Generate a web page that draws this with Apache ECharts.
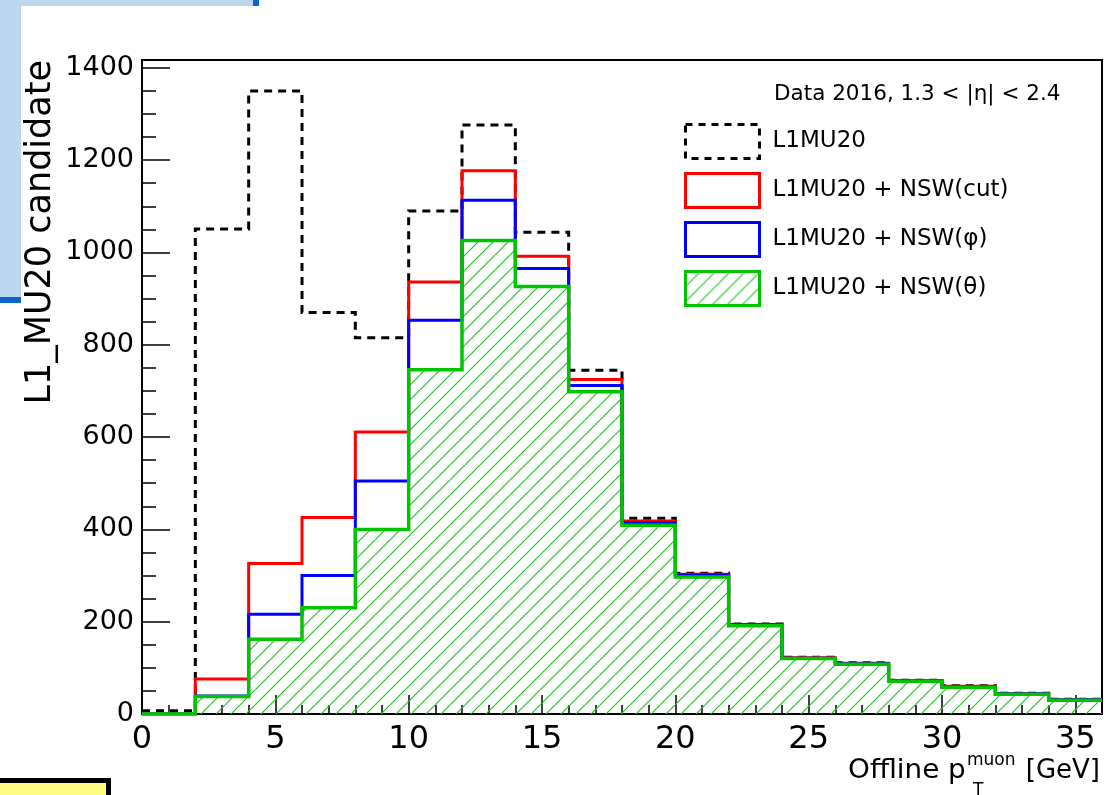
<!DOCTYPE html>
<html>
<head>
<meta charset="utf-8">
<script src="https://cdn.jsdelivr.net/npm/echarts@6/dist/echarts.min.js"></script>
<style>
  html, body { margin: 0; padding: 0; background: #ffffff; }
  #chart { width: 1113px; height: 795px; }
</style>
</head>
<body>
<div id="chart"></div>
<script>
// Offline muon pT bins: low edges in GeV, each bin 2 GeV wide
const binLowEdges = [0, 2, 4, 6, 8, 10, 12, 14, 16, 18, 20, 22, 24, 26, 28, 30, 32, 34];
const binWidth = 2;

// L1MU20 candidate counts per bin
const l1mu20   = [7, 1051, 1350, 870, 815, 1090, 1276, 1044, 745, 424, 305, 195, 123, 111, 73, 61, 45, 32];
const nswCut   = [0,   76,  326, 426, 611,  936, 1177,  992, 725, 418, 303, 194, 122, 110, 72, 60, 44, 31];
const nswPhi   = [0,   39,  216, 300, 505,  853, 1113,  965, 712, 414, 301, 193, 121, 109, 72, 59, 44, 31];
const nswTheta = [0,   38,  162, 230, 400,  746, 1026,  926, 698, 409, 297, 191, 120, 108, 71, 58, 43, 30];

const seriesNames = ['L1MU20', 'L1MU20 + NSW(cut)', 'L1MU20 + NSW(\u03c6)', 'L1MU20 + NSW(\u03b8)'];
const headerText = 'Data 2016, 1.3 < |\u03b7| < 2.4';

const FONT = '"DejaVu Sans", "Liberation Sans", sans-serif';
const GREEN = '#00c400';

// Histogram outline: one point per bin low edge plus the closing upper edge
function histPoints(values) {
  const pts = binLowEdges.map((x, i) => [x, values[i]]);
  pts.push([binLowEdges[binLowEdges.length - 1] + binWidth, values[values.length - 1]]);
  return pts;
}

// Diagonal "/" hatch tile for the filled histogram
function hatchTile(color, size, width) {
  const c = document.createElement('canvas');
  c.width = size; c.height = size;
  const g = c.getContext('2d');
  g.strokeStyle = color;
  g.lineWidth = width;
  g.beginPath();
  for (let k = -1; k <= 1; k++) {
    g.moveTo(k * size, size);
    g.lineTo(k * size + size, 0);
  }
  g.stroke();
  return c;
}
const hatch = { image: hatchTile('#1ec81e', 15, 1.2), repeat: 'repeat' };

const chart = echarts.init(document.getElementById('chart'), null, { renderer: 'canvas' });

function stepSeries(name, values, color, width, dash, extra) {
  return Object.assign({
    name: name,
    type: 'line',
    step: 'end',
    data: histPoints(values),
    showSymbol: false,
    symbol: 'none',
    lineStyle: { color: color, width: width, type: dash || 'solid', join: 'miter' },
    itemStyle: { color: color },
    emphasis: { disabled: true },
    silent: true
  }, extra || {});
}

const plainNumber = v => String(v);

chart.setOption({
  animation: false,
  backgroundColor: '#ffffff',
  grid: {
    left: 142, right: 11, top: 60, bottom: 81,
    show: true, borderColor: '#000', borderWidth: 2, backgroundColor: 'transparent'
  },
  xAxis: {
    type: 'value',
    min: 0, max: 36, interval: 5,
    axisLine: { lineStyle: { color: '#000', width: 2 } },
    axisTick: { show: true, inside: true, length: 19, lineStyle: { color: '#000', width: 1.5 } },
    minorTick: { show: true, splitNumber: 5, length: 9, lineStyle: { color: '#000', width: 1.5 } },
    splitLine: { show: false },
    axisLabel: { fontFamily: FONT, fontSize: 32, color: '#000', margin: 10, showMaxLabel: false, formatter: plainNumber }
  },
  yAxis: {
    type: 'value',
    min: 0, max: 1417, interval: 200,
    axisLine: { show: true, lineStyle: { color: '#000', width: 2 } },
    axisTick: { show: true, inside: true, length: 28, lineStyle: { color: '#000', width: 1.5 } },
    minorTick: { show: true, splitNumber: 4, length: 14, lineStyle: { color: '#000', width: 1.5 } },
    splitLine: { show: false },
    axisLabel: { fontFamily: FONT, fontSize: 27, color: '#000', margin: 8, showMaxLabel: false, formatter: plainNumber }
  },
  legend: {
    orient: 'vertical',
    left: 679, top: 118,
    itemWidth: 74, itemHeight: 34, itemGap: 12,
    icon: 'rect',
    selectedMode: false,
    textStyle: { fontFamily: FONT, fontSize: 23, color: '#000', padding: [0, 0, 0, 8] },
    data: [
      { name: seriesNames[0], itemStyle: { color: '#fff', borderColor: '#000', borderWidth: 3, borderType: [7, 6] } },
      { name: seriesNames[1], itemStyle: { color: '#fff', borderColor: '#ff0000', borderWidth: 3 } },
      { name: seriesNames[2], itemStyle: { color: '#fff', borderColor: '#0000ff', borderWidth: 3 } },
      { name: seriesNames[3], itemStyle: { color: hatch, borderColor: GREEN, borderWidth: 3 } }
    ]
  },
  series: [
    stepSeries(seriesNames[0], l1mu20, '#000000', 3, [8, 6]),
    stepSeries(seriesNames[1], nswCut, '#ff0000', 3),
    stepSeries(seriesNames[2], nswPhi, '#0000ff', 3),
    stepSeries(seriesNames[3], nswTheta, GREEN, 3.5, null, {
      areaStyle: { color: hatch, opacity: 1 }
    })
  ],
  graphic: [
    // slide decorations around the plot
    { type: 'rect', z: -10, shape: { x: 0, y: 0, width: 21, height: 297 }, style: { fill: '#bdd7ee' } },
    { type: 'rect', z: -10, shape: { x: 0, y: 0, width: 253, height: 6 }, style: { fill: '#bdd7ee' } },
    { type: 'rect', z: -10, shape: { x: 253, y: 0, width: 6, height: 6 }, style: { fill: '#0a66c8' } },
    { type: 'rect', z: -10, shape: { x: 0, y: 297, width: 21, height: 6 }, style: { fill: '#0a66c8' } },
    { type: 'rect', z: -10, shape: { x: -10, y: 780.5, width: 118.5, height: 40 },
      style: { fill: '#fdfb80', stroke: '#000', lineWidth: 5 } },
    // axis titles
    { type: 'text', x: 41, y: 60, rotation: Math.PI / 2,
      style: { text: 'L1_MU20 candidate', font: '35px ' + FONT, fill: '#000', align: 'right', verticalAlign: 'middle' } },
    { type: 'text', x: 848, y: 771, scaleX: 1.07,
      style: { text: 'Offline p', font: '26px ' + FONT, fill: '#000', align: 'left', verticalAlign: 'middle' } },
    { type: 'text', x: 967, y: 761,
      style: { text: 'muon', font: '17px ' + FONT, fill: '#000', align: 'left', verticalAlign: 'middle' } },
    { type: 'text', x: 973, y: 791,
      style: { text: 'T', font: '17px ' + FONT, fill: '#000', align: 'left', verticalAlign: 'middle' } },
    { type: 'text', x: 1100, y: 771,
      style: { text: '[GeV]', font: '26px ' + FONT, fill: '#000', align: 'right', verticalAlign: 'middle' } },
    // legend header
    { type: 'text', x: 774, y: 94,
      style: { text: headerText, font: '21.5px ' + FONT, fill: '#000', align: 'left', verticalAlign: 'middle' } }
  ]
});
</script>
</body>
</html>
